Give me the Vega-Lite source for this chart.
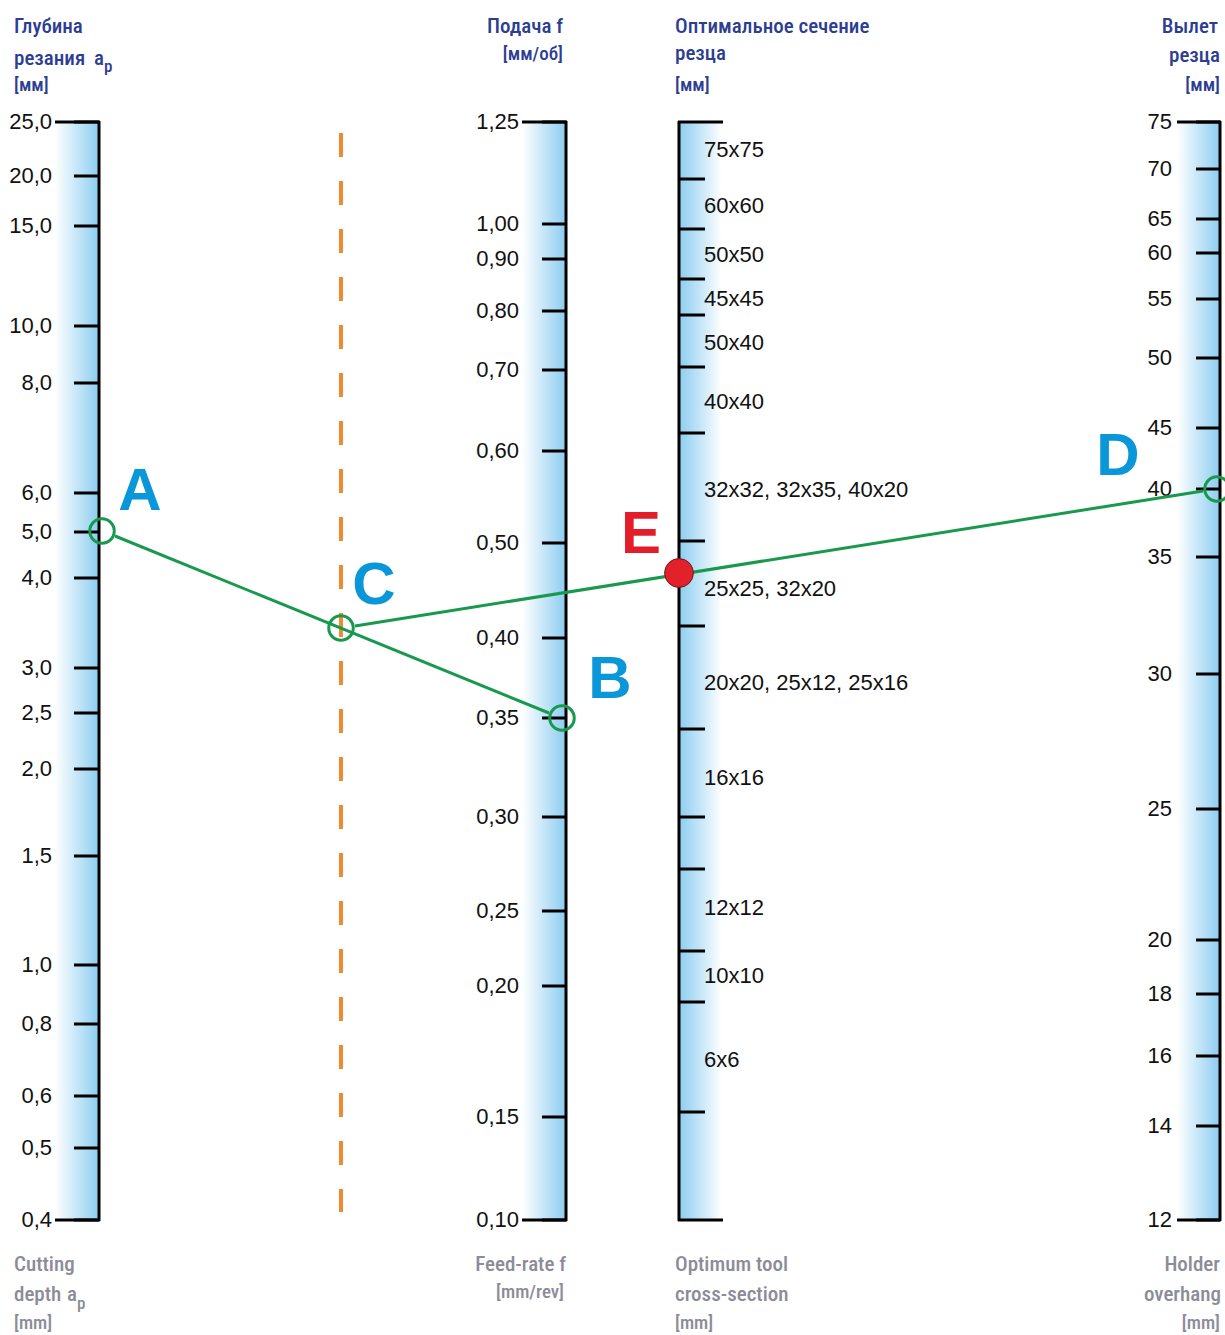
{
  "$schema": "https://vega.github.io/schema/vega-lite/v6.json",
  "width": 1225,
  "height": 1335,
  "autosize": {"type": "none"},
  "padding": 0,
  "background": "#ffffff",
  "config": {"view": {"stroke": null}},
  "datasets": {
    "bars": [
      {"axis": "depth", "x0": 55, "x1": 99, "ytop": 122, "ybot": 1220},
      {"axis": "feed", "x0": 522, "x1": 566, "ytop": 122, "ybot": 1220},
      {"axis": "overhang", "x0": 1177, "x1": 1220, "ytop": 122, "ybot": 1220},
      {"axis": "cross", "x0": 679, "x1": 722, "ytop": 122, "ybot": 1220}
    ],
    "axislines": [
      {"axis": "depth", "x": 99, "y0": 121, "y1": 1221},
      {"axis": "feed", "x": 566, "y0": 121, "y1": 1221},
      {"axis": "cross", "x": 679, "y0": 121, "y1": 1221},
      {"axis": "overhang", "x": 1220, "y0": 121, "y1": 1221}
    ],
    "caps": [
      {"axis": "depth", "x0": 55, "x1": 100, "y": 122},
      {"axis": "depth", "x0": 55, "x1": 100, "y": 1220},
      {"axis": "feed", "x0": 522, "x1": 567, "y": 122},
      {"axis": "feed", "x0": 522, "x1": 567, "y": 1220},
      {"axis": "cross", "x0": 678, "x1": 723, "y": 122},
      {"axis": "cross", "x0": 678, "x1": 723, "y": 1220},
      {"axis": "overhang", "x0": 1177, "x1": 1221, "y": 122},
      {"axis": "overhang", "x0": 1177, "x1": 1221, "y": 1220}
    ],
    "ticks": [
      {"axis": "depth", "label": "25,0", "pos": 122},
      {"axis": "depth", "label": "20,0", "pos": 176},
      {"axis": "depth", "label": "15,0", "pos": 226},
      {"axis": "depth", "label": "10,0", "pos": 326},
      {"axis": "depth", "label": "8,0", "pos": 383},
      {"axis": "depth", "label": "6,0", "pos": 493},
      {"axis": "depth", "label": "5,0", "pos": 532},
      {"axis": "depth", "label": "4,0", "pos": 578},
      {"axis": "depth", "label": "3,0", "pos": 668},
      {"axis": "depth", "label": "2,5", "pos": 713},
      {"axis": "depth", "label": "2,0", "pos": 769},
      {"axis": "depth", "label": "1,5", "pos": 856},
      {"axis": "depth", "label": "1,0", "pos": 965},
      {"axis": "depth", "label": "0,8", "pos": 1024},
      {"axis": "depth", "label": "0,6", "pos": 1096},
      {"axis": "depth", "label": "0,5", "pos": 1148},
      {"axis": "depth", "label": "0,4", "pos": 1220},
      {"axis": "feed", "label": "1,25", "pos": 122},
      {"axis": "feed", "label": "1,00", "pos": 224},
      {"axis": "feed", "label": "0,90", "pos": 259},
      {"axis": "feed", "label": "0,80", "pos": 311},
      {"axis": "feed", "label": "0,70", "pos": 370},
      {"axis": "feed", "label": "0,60", "pos": 451},
      {"axis": "feed", "label": "0,50", "pos": 543},
      {"axis": "feed", "label": "0,40", "pos": 638},
      {"axis": "feed", "label": "0,35", "pos": 718},
      {"axis": "feed", "label": "0,30", "pos": 817},
      {"axis": "feed", "label": "0,25", "pos": 911},
      {"axis": "feed", "label": "0,20", "pos": 986},
      {"axis": "feed", "label": "0,15", "pos": 1117},
      {"axis": "feed", "label": "0,10", "pos": 1220},
      {"axis": "overhang", "label": "75", "pos": 122},
      {"axis": "overhang", "label": "70", "pos": 169},
      {"axis": "overhang", "label": "65", "pos": 219},
      {"axis": "overhang", "label": "60", "pos": 253},
      {"axis": "overhang", "label": "55", "pos": 299},
      {"axis": "overhang", "label": "50", "pos": 358},
      {"axis": "overhang", "label": "45", "pos": 428},
      {"axis": "overhang", "label": "40", "pos": 489},
      {"axis": "overhang", "label": "35", "pos": 557},
      {"axis": "overhang", "label": "30", "pos": 674},
      {"axis": "overhang", "label": "25", "pos": 809},
      {"axis": "overhang", "label": "20", "pos": 940},
      {"axis": "overhang", "label": "18", "pos": 994},
      {"axis": "overhang", "label": "16", "pos": 1056},
      {"axis": "overhang", "label": "14", "pos": 1126},
      {"axis": "overhang", "label": "12", "pos": 1220}
    ],
    "crossticks": [
      {"pos": 179}, {"pos": 229}, {"pos": 279}, {"pos": 315}, {"pos": 367},
      {"pos": 433}, {"pos": 541}, {"pos": 626}, {"pos": 729}, {"pos": 817},
      {"pos": 869}, {"pos": 951}, {"pos": 1002}, {"pos": 1112}
    ],
    "crosslabels": [
      {"label": "75x75", "pos": 150},
      {"label": "60x60", "pos": 206},
      {"label": "50x50", "pos": 255},
      {"label": "45x45", "pos": 299},
      {"label": "50x40", "pos": 343},
      {"label": "40x40", "pos": 402},
      {"label": "32x32, 32x35, 40x20", "pos": 490},
      {"label": "25x25, 32x20", "pos": 589},
      {"label": "20x20, 25x12, 25x16", "pos": 683},
      {"label": "16x16", "pos": 778},
      {"label": "12x12", "pos": 908},
      {"label": "10x10", "pos": 976},
      {"label": "6x6", "pos": 1060}
    ],
    "segments": [
      {"seg": "AB", "x1": 115, "y1": 536, "x2": 549, "y2": 713},
      {"seg": "CD", "x1": 355, "y1": 626, "x2": 1203, "y2": 491}
    ],
    "points": [
      {"name": "A", "x": 102, "y": 531},
      {"name": "C", "x": 341, "y": 628},
      {"name": "B", "x": 562, "y": 718},
      {"name": "D", "x": 1217, "y": 489}
    ],
    "epoint": [{"name": "E", "x": 679, "y": 573}],
    "letters": [
      {"t": "A", "x": 140, "y": 510},
      {"t": "C", "x": 374, "y": 604},
      {"t": "B", "x": 610, "y": 698},
      {"t": "D", "x": 1118, "y": 475}
    ],
    "eletter": [{"t": "E", "x": 641, "y": 553}],
    "titlesL": [
      {"text": "Глубина", "x": 14, "y": 33, "kind": "main", "lang": "ru"},
      {"text": "резания", "x": 14, "y": 65, "kind": "main", "lang": "ru"},
      {"text": "a", "x": 94, "y": 65, "kind": "main", "lang": "ru"},
      {"text": "p", "x": 104, "y": 72, "kind": "sub", "lang": "ru"},
      {"text": "[мм]", "x": 14, "y": 91, "kind": "unit", "lang": "ru"},
      {"text": "Оптимальное сечение", "x": 675, "y": 33, "kind": "main", "lang": "ru"},
      {"text": "резца", "x": 675, "y": 60, "kind": "main", "lang": "ru"},
      {"text": "[мм]", "x": 675, "y": 91, "kind": "unit", "lang": "ru"},
      {"text": "Cutting", "x": 14, "y": 1271, "kind": "main", "lang": "en"},
      {"text": "depth", "x": 14, "y": 1301, "kind": "main", "lang": "en"},
      {"text": "a", "x": 67, "y": 1301, "kind": "main", "lang": "en"},
      {"text": "p", "x": 77, "y": 1309, "kind": "sub", "lang": "en"},
      {"text": "[mm]", "x": 14, "y": 1329, "kind": "unit", "lang": "en"},
      {"text": "Optimum tool", "x": 675, "y": 1271, "kind": "main", "lang": "en"},
      {"text": "cross-section", "x": 675, "y": 1301, "kind": "main", "lang": "en"},
      {"text": "[mm]", "x": 675, "y": 1329, "kind": "unit", "lang": "en"}
    ],
    "titlesR": [
      {"text": "Подача f", "x": 563, "y": 33, "kind": "main", "lang": "ru"},
      {"text": "[мм/об]", "x": 563, "y": 60, "kind": "unit", "lang": "ru"},
      {"text": "Вылет", "x": 1218, "y": 33, "kind": "main", "lang": "ru"},
      {"text": "резца", "x": 1220, "y": 62, "kind": "main", "lang": "ru"},
      {"text": "[мм]", "x": 1220, "y": 91, "kind": "unit", "lang": "ru"},
      {"text": "Feed-rate f", "x": 566, "y": 1271, "kind": "main", "lang": "en"},
      {"text": "[mm/rev]", "x": 564, "y": 1298, "kind": "unit", "lang": "en"},
      {"text": "Holder", "x": 1220, "y": 1271, "kind": "main", "lang": "en"},
      {"text": "overhang", "x": 1221, "y": 1301, "kind": "main", "lang": "en"},
      {"text": "[mm]", "x": 1220, "y": 1329, "kind": "unit", "lang": "en"}
    ]
  },
  "layer": [
    {
      "data": {"name": "bars"},
      "transform": [{"filter": "datum.axis !== 'cross'"}],
      "mark": {"type": "rect", "fill": {"gradient": "linear", "x1": 0, "y1": 0, "x2": 1, "y2": 0, "stops": [{"offset": 0, "color": "#ffffff"}, {"offset": 1, "color": "#8ccdf0"}]}},
      "encoding": {
        "x": {"field": "x0", "type": "quantitative", "scale": {"domain": [0, 1225], "nice": false, "zero": false}, "axis": null},
        "x2": {"field": "x1"},
        "y": {"field": "ytop", "type": "quantitative", "scale": {"domain": [0, 1335], "nice": false, "zero": false, "reverse": true}, "axis": null},
        "y2": {"field": "ybot"}
      }
    },
    {
      "data": {"name": "bars"},
      "transform": [{"filter": "datum.axis === 'cross'"}],
      "mark": {"type": "rect", "fill": {"gradient": "linear", "x1": 0, "y1": 0, "x2": 1, "y2": 0, "stops": [{"offset": 0, "color": "#8ccdf0"}, {"offset": 1, "color": "#ffffff"}]}},
      "encoding": {
        "x": {"field": "x0", "type": "quantitative", "scale": {"domain": [0, 1225], "nice": false, "zero": false}, "axis": null},
        "x2": {"field": "x1"},
        "y": {"field": "ytop", "type": "quantitative", "scale": {"domain": [0, 1335], "nice": false, "zero": false, "reverse": true}, "axis": null},
        "y2": {"field": "ybot"}
      }
    },
    {
      "data": {"name": "axislines"},
      "mark": {"type": "rule", "color": "#000000", "strokeWidth": 3},
      "encoding": {
        "x": {"field": "x", "type": "quantitative", "scale": {"domain": [0, 1225], "nice": false, "zero": false}, "axis": null},
        "y": {"field": "y0", "type": "quantitative", "scale": {"domain": [0, 1335], "nice": false, "zero": false, "reverse": true}, "axis": null},
        "y2": {"field": "y1"}
      }
    },
    {
      "data": {"name": "caps"},
      "mark": {"type": "rule", "color": "#000000", "strokeWidth": 3},
      "encoding": {
        "x": {"field": "x0", "type": "quantitative", "scale": {"domain": [0, 1225], "nice": false, "zero": false}, "axis": null},
        "x2": {"field": "x1"},
        "y": {"field": "y", "type": "quantitative", "scale": {"domain": [0, 1335], "nice": false, "zero": false, "reverse": true}, "axis": null}
      }
    },
    {
      "data": {"name": "ticks"},
      "transform": [{"filter": "datum.axis === 'depth'"}],
      "mark": {"type": "rule", "color": "#000000", "strokeWidth": 3},
      "encoding": {
        "x": {"datum": 74, "type": "quantitative", "scale": {"domain": [0, 1225], "nice": false, "zero": false}, "axis": null},
        "x2": {"datum": 99},
        "y": {"field": "pos", "type": "quantitative", "scale": {"domain": [0, 1335], "nice": false, "zero": false, "reverse": true}, "axis": null}
      }
    },
    {
      "data": {"name": "ticks"},
      "transform": [{"filter": "datum.axis === 'feed'"}],
      "mark": {"type": "rule", "color": "#000000", "strokeWidth": 3},
      "encoding": {
        "x": {"datum": 542, "type": "quantitative", "scale": {"domain": [0, 1225], "nice": false, "zero": false}, "axis": null},
        "x2": {"datum": 566},
        "y": {"field": "pos", "type": "quantitative", "scale": {"domain": [0, 1335], "nice": false, "zero": false, "reverse": true}, "axis": null}
      }
    },
    {
      "data": {"name": "ticks"},
      "transform": [{"filter": "datum.axis === 'overhang'"}],
      "mark": {"type": "rule", "color": "#000000", "strokeWidth": 3},
      "encoding": {
        "x": {"datum": 1196, "type": "quantitative", "scale": {"domain": [0, 1225], "nice": false, "zero": false}, "axis": null},
        "x2": {"datum": 1220},
        "y": {"field": "pos", "type": "quantitative", "scale": {"domain": [0, 1335], "nice": false, "zero": false, "reverse": true}, "axis": null}
      }
    },
    {
      "data": {"name": "crossticks"},
      "mark": {"type": "rule", "color": "#000000", "strokeWidth": 3},
      "encoding": {
        "x": {"datum": 679, "type": "quantitative", "scale": {"domain": [0, 1225], "nice": false, "zero": false}, "axis": null},
        "x2": {"datum": 705},
        "y": {"field": "pos", "type": "quantitative", "scale": {"domain": [0, 1335], "nice": false, "zero": false, "reverse": true}, "axis": null}
      }
    },
    {
      "data": {"name": "ticks"},
      "transform": [{"filter": "datum.axis === 'depth'"}],
      "mark": {"type": "text", "align": "right", "baseline": "middle", "font": "Liberation Sans, Arial, sans-serif", "fontSize": 22, "color": "#111111"},
      "encoding": {
        "x": {"datum": 52, "type": "quantitative", "scale": {"domain": [0, 1225], "nice": false, "zero": false}, "axis": null},
        "y": {"field": "pos", "type": "quantitative", "scale": {"domain": [0, 1335], "nice": false, "zero": false, "reverse": true}, "axis": null},
        "text": {"field": "label"}
      }
    },
    {
      "data": {"name": "ticks"},
      "transform": [{"filter": "datum.axis === 'feed'"}],
      "mark": {"type": "text", "align": "right", "baseline": "middle", "font": "Liberation Sans, Arial, sans-serif", "fontSize": 22, "color": "#111111"},
      "encoding": {
        "x": {"datum": 519, "type": "quantitative", "scale": {"domain": [0, 1225], "nice": false, "zero": false}, "axis": null},
        "y": {"field": "pos", "type": "quantitative", "scale": {"domain": [0, 1335], "nice": false, "zero": false, "reverse": true}, "axis": null},
        "text": {"field": "label"}
      }
    },
    {
      "data": {"name": "ticks"},
      "transform": [{"filter": "datum.axis === 'overhang'"}],
      "mark": {"type": "text", "align": "right", "baseline": "middle", "font": "Liberation Sans, Arial, sans-serif", "fontSize": 22, "color": "#111111"},
      "encoding": {
        "x": {"datum": 1172, "type": "quantitative", "scale": {"domain": [0, 1225], "nice": false, "zero": false}, "axis": null},
        "y": {"field": "pos", "type": "quantitative", "scale": {"domain": [0, 1335], "nice": false, "zero": false, "reverse": true}, "axis": null},
        "text": {"field": "label"}
      }
    },
    {
      "data": {"name": "crosslabels"},
      "mark": {"type": "text", "align": "left", "baseline": "middle", "font": "Liberation Sans, Arial, sans-serif", "fontSize": 22, "color": "#111111"},
      "encoding": {
        "x": {"datum": 704, "type": "quantitative", "scale": {"domain": [0, 1225], "nice": false, "zero": false}, "axis": null},
        "y": {"field": "pos", "type": "quantitative", "scale": {"domain": [0, 1335], "nice": false, "zero": false, "reverse": true}, "axis": null},
        "text": {"field": "label"}
      }
    },
    {
      "data": {"values": [{"line": "C"}]},
      "mark": {"type": "rule", "color": "#ef8a2e", "strokeWidth": 4, "strokeDash": [24, 24]},
      "encoding": {
        "x": {"datum": 341, "type": "quantitative", "scale": {"domain": [0, 1225], "nice": false, "zero": false}, "axis": null},
        "y": {"datum": 133, "type": "quantitative", "scale": {"domain": [0, 1335], "nice": false, "zero": false, "reverse": true}, "axis": null},
        "y2": {"datum": 1212}
      }
    },
    {
      "data": {"name": "segments"},
      "mark": {"type": "rule", "color": "#18994e", "strokeWidth": 3},
      "encoding": {
        "x": {"field": "x1", "type": "quantitative", "scale": {"domain": [0, 1225], "nice": false, "zero": false}, "axis": null},
        "x2": {"field": "x2"},
        "y": {"field": "y1", "type": "quantitative", "scale": {"domain": [0, 1335], "nice": false, "zero": false, "reverse": true}, "axis": null},
        "y2": {"field": "y2"}
      }
    },
    {
      "data": {"name": "points"},
      "mark": {"type": "point", "shape": "circle", "filled": false, "stroke": "#18994e", "strokeWidth": 3, "size": 600, "opacity": 1},
      "encoding": {
        "x": {"field": "x", "type": "quantitative", "scale": {"domain": [0, 1225], "nice": false, "zero": false}, "axis": null},
        "y": {"field": "y", "type": "quantitative", "scale": {"domain": [0, 1335], "nice": false, "zero": false, "reverse": true}, "axis": null}
      }
    },
    {
      "data": {"name": "epoint"},
      "mark": {"type": "point", "shape": "circle", "filled": true, "fill": "#e2212b", "stroke": "#6b1a1a", "strokeWidth": 1, "size": 830, "opacity": 1},
      "encoding": {
        "x": {"field": "x", "type": "quantitative", "scale": {"domain": [0, 1225], "nice": false, "zero": false}, "axis": null},
        "y": {"field": "y", "type": "quantitative", "scale": {"domain": [0, 1335], "nice": false, "zero": false, "reverse": true}, "axis": null}
      }
    },
    {
      "data": {"name": "letters"},
      "mark": {"type": "text", "align": "center", "baseline": "alphabetic", "font": "Liberation Sans, Arial, sans-serif", "fontWeight": "bold", "fontSize": 60, "color": "#0a97d9"},
      "encoding": {
        "x": {"field": "x", "type": "quantitative", "scale": {"domain": [0, 1225], "nice": false, "zero": false}, "axis": null},
        "y": {"field": "y", "type": "quantitative", "scale": {"domain": [0, 1335], "nice": false, "zero": false, "reverse": true}, "axis": null},
        "text": {"field": "t"}
      }
    },
    {
      "data": {"name": "eletter"},
      "mark": {"type": "text", "align": "center", "baseline": "alphabetic", "font": "Liberation Sans, Arial, sans-serif", "fontWeight": "bold", "fontSize": 60, "color": "#e31e2a"},
      "encoding": {
        "x": {"field": "x", "type": "quantitative", "scale": {"domain": [0, 1225], "nice": false, "zero": false}, "axis": null},
        "y": {"field": "y", "type": "quantitative", "scale": {"domain": [0, 1335], "nice": false, "zero": false, "reverse": true}, "axis": null},
        "text": {"field": "t"}
      }
    },
    {
      "data": {"name": "titlesL"},
      "mark": {"type": "text", "align": "left", "baseline": "alphabetic", "font": "Roboto Condensed, Liberation Sans Narrow, DejaVu Sans Condensed, sans-serif", "fontWeight": 500},
      "encoding": {
        "x": {"field": "x", "type": "quantitative", "scale": {"domain": [0, 1225], "nice": false, "zero": false}, "axis": null},
        "y": {"field": "y", "type": "quantitative", "scale": {"domain": [0, 1335], "nice": false, "zero": false, "reverse": true}, "axis": null},
        "text": {"field": "text"},
        "size": {"field": "kind", "type": "ordinal", "scale": {"domain": ["main", "unit", "sub"], "range": [21, 17, 12]}, "legend": null},
        "color": {"field": "lang", "type": "nominal", "scale": {"domain": ["ru", "en"], "range": ["#2c3d92", "#8b8c97"]}, "legend": null}
      }
    },
    {
      "data": {"name": "titlesR"},
      "mark": {"type": "text", "align": "right", "baseline": "alphabetic", "font": "Roboto Condensed, Liberation Sans Narrow, DejaVu Sans Condensed, sans-serif", "fontWeight": 500},
      "encoding": {
        "x": {"field": "x", "type": "quantitative", "scale": {"domain": [0, 1225], "nice": false, "zero": false}, "axis": null},
        "y": {"field": "y", "type": "quantitative", "scale": {"domain": [0, 1335], "nice": false, "zero": false, "reverse": true}, "axis": null},
        "text": {"field": "text"},
        "size": {"field": "kind", "type": "ordinal", "scale": {"domain": ["main", "unit", "sub"], "range": [21, 17, 12]}, "legend": null},
        "color": {"field": "lang", "type": "nominal", "scale": {"domain": ["ru", "en"], "range": ["#2c3d92", "#8b8c97"]}, "legend": null}
      }
    }
  ]
}
